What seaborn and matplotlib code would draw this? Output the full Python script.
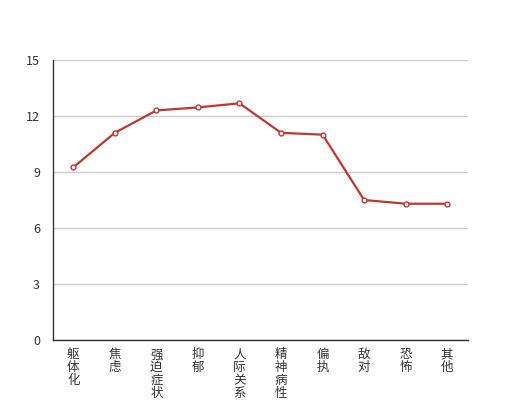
import matplotlib
matplotlib.use("Agg")
import matplotlib.pyplot as plt
import pandas as pd
import seaborn as sns
import numpy as np

categories = ['躯体化', '焦虑', '强迫症状', '抑郁', '人际关系敏感',
              '精神病性', '偏执', '敌对', '恐怖', '其他']
values = [9.25, 11.1, 12.3, 12.46, 12.68, 11.1, 11.0, 7.5, 7.3, 7.3]
yticks = [0, 3, 6, 9, 12, 15]

sns.set_style('white')
plt.rcParams['font.family'] = ['Noto Sans CJK SC', 'DejaVu Sans']

df = pd.DataFrame({'pos': np.arange(len(categories)), 'value': values})

fig = plt.figure(figsize=(5.2, 4.0), dpi=100)
ax = fig.add_axes([0.101, 0.15, 0.799, 0.70])

sns.lineplot(data=df, x='pos', y='value', ax=ax, color='#c23531', linewidth=1.6,
             marker='o', markersize=3.5, markerfacecolor='white',
             markeredgecolor='#c23531', markeredgewidth=1.0, zorder=3)

ax.set_xlim(-0.5, len(categories) - 0.5)
ax.set_ylim(0, 15)
ax.set_yticks(yticks)
ax.yaxis.grid(True, color='#cccccc', linewidth=1)
ax.set_axisbelow(True)

# boundary ticks like echarts, labels centered in band
ax.set_xticks(np.arange(len(categories) + 1) - 0.5)
ax.set_xticklabels([])
ax.set_xticks(np.arange(len(categories)), minor=True)
ax.set_xticklabels(['\n'.join(c) for c in categories], minor=True,
                   va='top', linespacing=0.98)
ax.tick_params(axis='x', which='major', length=5, color='#333333', direction='out')
ax.tick_params(axis='x', which='minor', length=0, pad=6, labelsize=9, labelcolor='#333333')
ax.tick_params(axis='y', length=5, color='#333333', direction='out',
               labelsize=9, labelcolor='#333333', pad=4)

for side in ['top', 'right']:
    ax.spines[side].set_visible(False)
for side in ['left', 'bottom']:
    ax.spines[side].set_color('#333333')
    ax.spines[side].set_linewidth(1)

ax.set_xlabel('')
ax.set_ylabel('')

fig.savefig('out.png', dpi=100)
